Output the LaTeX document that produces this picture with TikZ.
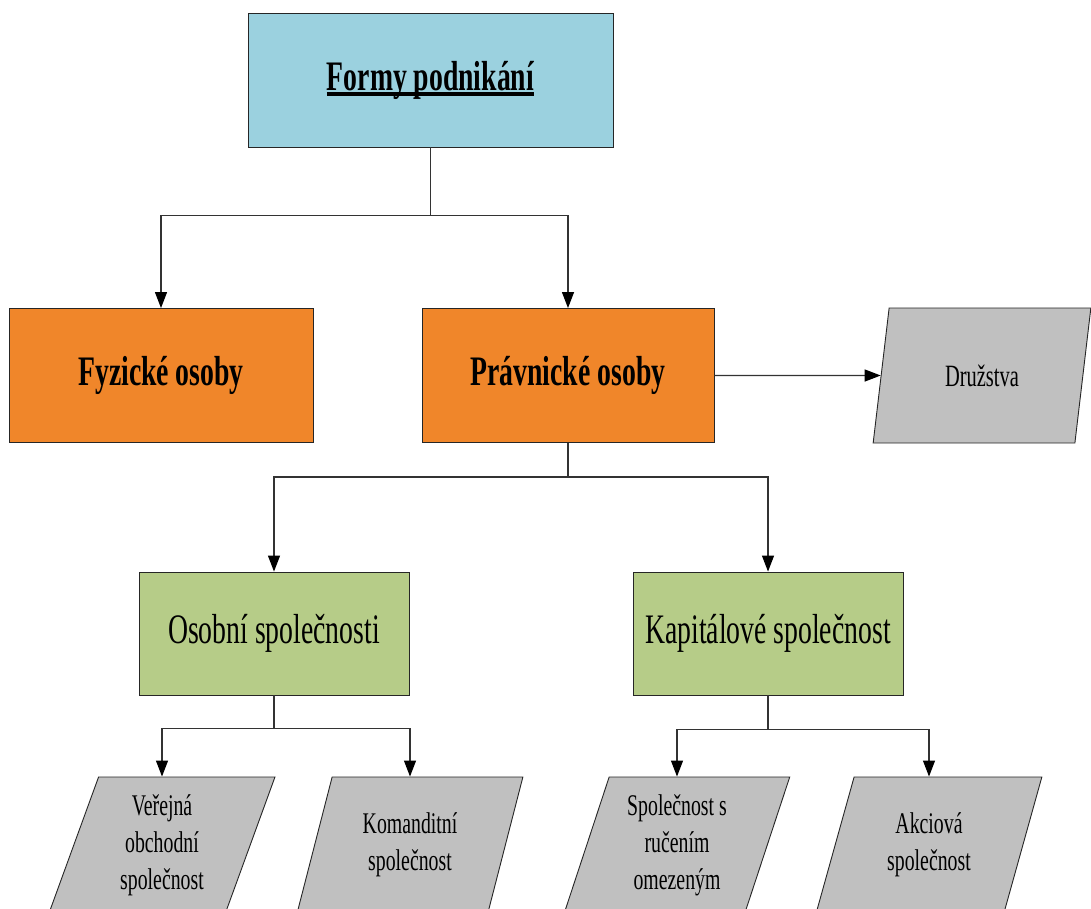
\documentclass[tikz,border=0pt]{standalone}
\usepackage{fontspec}
\setmainfont[FakeStretch=0.66]{Liberation Serif}
\usetikzlibrary{shapes,arrows.meta}
\definecolor{modra}{HTML}{9BD1DF}
\definecolor{oranzova}{HTML}{F0862A}
\definecolor{zelena}{HTML}{B6CC88}
\definecolor{seda}{HTML}{C0C0C0}
\newsavebox\podbox
\newcommand\podtrh[1]{\sbox\podbox{#1}\rlap{\rule[-6pt]{\wd\podbox}{4pt}}\usebox\podbox}

\begin{document}
\begin{tikzpicture}[x=1pt,y=-1pt]
\tikzstyle{every node}=[draw=black!85,line width=0.9pt,inner sep=2pt,align=center]
\tikzstyle{hlavni}=[rectangle,fill=modra,minimum width=365pt,minimum height=134pt,font=\fontsize{42}{48}\selectfont\bfseries]
\tikzstyle{osoby}=[rectangle,fill=oranzova,minimum height=134pt,font=\fontsize{42}{48}\selectfont\bfseries]
\tikzstyle{spolecnosti}=[rectangle,fill=zelena,minimum width=270pt,minimum height=123pt,font=\fontsize{42}{48}\selectfont]
\tikzstyle{formy}=[trapezium,trapezium left angle=72,trapezium right angle=108,trapezium stretches=true,fill=seda,minimum width=226pt,minimum height=136pt,font=\fontsize{30}{37}\selectfont]
\tikzstyle{spoj}=[draw=black!80,line width=1.2pt,-{Triangle[length=16pt,width=12pt,color=black]}]
\useasboundingbox (0,0) rectangle (1091,908);
\node[hlavni] (podnikani) at (430.5,80) {\podtrh{Formy podnikání}};
\node[osoby,minimum width=304pt] (fyz) at (161,375.5) {Fyzické osoby};
\node[osoby,minimum width=292pt] (prav) at (568,375.5) {Právnické osoby};
\node[formy,trapezium left angle=75.5,trapezium right angle=104.5,minimum width=219pt,minimum height=135pt,font=\fontsize{31}{37}\selectfont] (druz) at (982,375.5) {Družstva};
\node[spolecnosti] (osob) at (274,633.5) {Osobní společnosti};
\node[spolecnosti] (kap) at (768,633.5) {Kapitálové společnost};
\node[formy] (vos) at (162,845) {Veřejná\\obchodní\\společnost};
\node[formy] (ks) at (410,845) {Komanditní\\společnost};
\node[formy] (sro) at (677,845) {Společnost s\\ručením\\omezeným};
\node[formy] (as) at (929,845) {Akciová\\společnost};
\draw[spoj] (podnikani.south) -- ++(0,68) -| (fyz.north);
\draw[spoj] (podnikani.south) -- ++(0,68) -| (prav.north);
\draw[spoj] (prav.east) -- (druz.west);
\draw[spoj] (prav.south) -- ++(0,34) -| (osob.north);
\draw[spoj] (prav.south) -- ++(0,34) -| (kap.north);
\draw[spoj] (osob.south) -- ++(0,33) -| (vos.center |- vos.north);
\draw[spoj] (osob.south) -- ++(0,33) -| (ks.center |- ks.north);
\draw[spoj] (kap.south) -- ++(0,34) -| (sro.center |- sro.north);
\draw[spoj] (kap.south) -- ++(0,34) -| (as.center |- as.north);
\end{tikzpicture}
\end{document}
